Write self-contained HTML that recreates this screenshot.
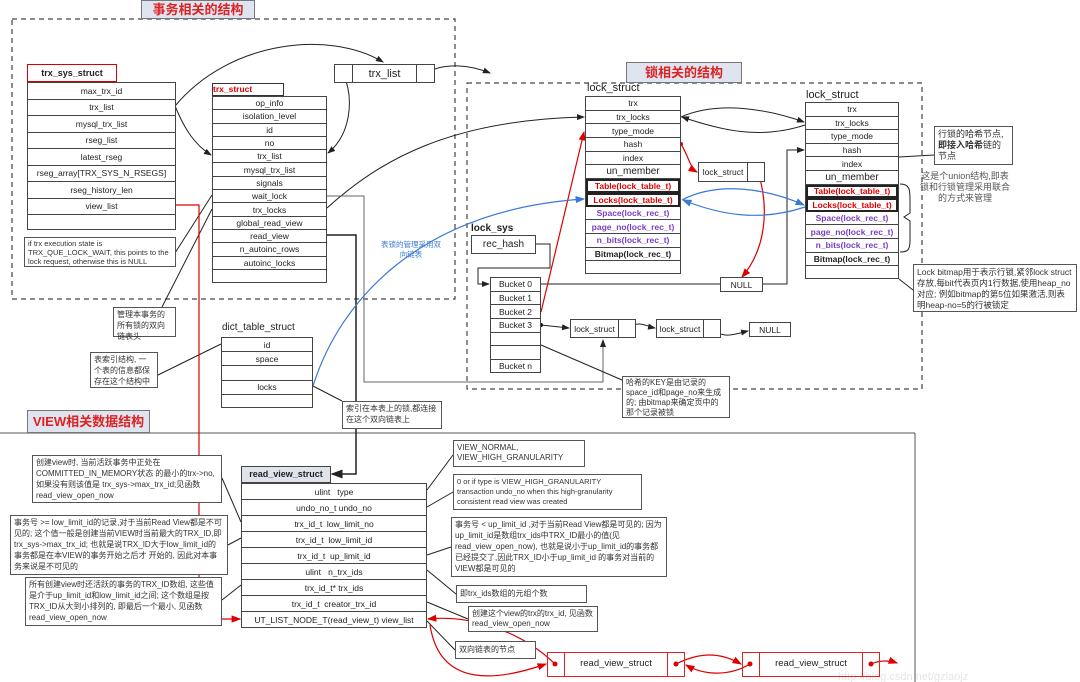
<!DOCTYPE html>
<html><head><meta charset="utf-8"><style>
*{margin:0;padding:0;box-sizing:border-box}
body{width:1080px;height:682px;background:#fff;position:relative;overflow:hidden;font-family:"Liberation Sans","Noto Sans CJK SC",sans-serif;color:#222}
.a{position:absolute}
.t{position:absolute;border:1px solid #444;background:#fff}
.t div{border-bottom:1px solid #444;text-align:center;font-size:8.5px;display:flex;align-items:center;justify-content:center;white-space:nowrap;overflow:hidden}
.t div:last-child{border-bottom:none}
.n{position:absolute;border:1px solid #555;background:#fff;font-size:8.5px;line-height:12px;padding:2px 4px;color:#333}
.ttl{position:absolute;background:#dfe5f0;border:1px solid #777;color:#d22;font-weight:bold;font-size:13px;text-align:center}
.rd{color:#d00;font-weight:bold}
.pu{color:#7a3fc0;font-weight:bold}
.bd{font-weight:bold}
.thk{border:2px solid #222 !important}
svg{position:absolute;left:0;top:0}
</style></head><body>
<svg width="1080" height="682" viewBox="0 0 1080 682">
<defs>
<marker id="k" markerWidth="8" markerHeight="8" refX="7" refY="4" orient="auto"><path d="M0,1L8,4L0,7z" fill="#222"/></marker>
<marker id="r" markerWidth="8" markerHeight="8" refX="7" refY="4" orient="auto"><path d="M0,1L8,4L0,7z" fill="#d00"/></marker>
<marker id="bl" markerWidth="8" markerHeight="8" refX="7" refY="4" orient="auto"><path d="M0,1L8,4L0,7z" fill="#3a7ad8"/></marker>
</defs>
<g fill="none" stroke="#444" stroke-dasharray="5,4" stroke-width="1.2">
<rect x="12" y="19" width="443" height="280"/>
<rect x="467" y="83" width="455" height="306"/>
</g>
<g fill="none" stroke="#555" stroke-width="1">
<line x1="0" y1="433" x2="915" y2="433"/>
<line x1="915" y1="433" x2="915" y2="682"/>
</g>
<g fill="none" stroke="#222" stroke-width="1">
<path d="M175,106 C230,40 330,30 383,62" marker-end="url(#k)"/>
<path d="M175,106 C185,130 195,145 211,155" marker-end="url(#k)"/>
<path d="M343,73 C355,100 350,135 328,153" marker-end="url(#k)"/>
<path d="M426,73 C445,62 470,65 490,73" marker-end="url(#k)"/>
<path d="M327,208 C380,160 450,120 584,117" marker-end="url(#k)"/>
<path d="M681,117 C720,100 770,110 804,122" marker-end="url(#k)"/>
<path d="M805,125 C760,140 720,130 682,117" marker-end="url(#k)"/>
<path d="M327,196 H364 V382 H603 V340" stroke="#666" marker-end="url(#k)"/>
<path d="M541,284 H787 V150 H804" marker-end="url(#k)"/>
<path d="M536,244 H550 V268 H478 V284 H489" marker-end="url(#k)"/>
<path d="M541,325 L569,328" marker-end="url(#k)"/>
<path d="M628,328 C640,320 645,326 655,328" marker-end="url(#k)"/>
<path d="M713,328 C722,340 735,334 748,331" marker-end="url(#k)"/>
<path d="M327,235 H356 V474 H332" stroke-width="1.5" marker-end="url(#k)"/>
<line x1="175" y1="253" x2="212" y2="195"/>
<line x1="212" y1="209" x2="162" y2="307"/>
<line x1="158" y1="375" x2="221" y2="344"/>
<line x1="313" y1="386" x2="342" y2="401"/>
<line x1="541" y1="345" x2="622" y2="380"/>
<line x1="899" y1="157" x2="934" y2="155"/>
<line x1="899" y1="279" x2="913" y2="290"/>
<path d="M900,184 C910,184 910,190 910,200 V213 L904,217 L910,221 V240 C910,250 908,252 900,252"/>
<line x1="222" y1="478" x2="241" y2="522"/>
<line x1="228" y1="545" x2="241" y2="538"/>
<line x1="222" y1="600" x2="241" y2="585"/>
<line x1="453" y1="455" x2="427" y2="490"/>
<line x1="453" y1="492" x2="427" y2="507"/>
<line x1="451" y1="547" x2="427" y2="555"/>
<line x1="456" y1="594" x2="427" y2="570"/>
<line x1="468" y1="619" x2="427" y2="602"/>
<line x1="455" y1="650" x2="427" y2="621"/>
</g>
<g fill="none" stroke="#d00" stroke-width="1.2">
<path d="M175,205 H199 V619 H240" marker-end="url(#r)"/>
<path d="M541,312 L584,132" marker-end="url(#r)"/>
<path d="M681,144 C688,155 690,168 697,172" marker-end="url(#r)"/>
<path d="M758,172 C770,210 765,250 742,277" marker-end="url(#r)"/>
<path d="M555,664 C520,630 470,615 428,619" marker-end="url(#r)"/>
<path d="M430,625 C440,690 500,680 546,664" marker-end="url(#r)"/>
<path d="M676,664 C700,652 720,652 741,664" marker-end="url(#r)"/>
<path d="M750,664 C730,676 705,676 686,665" marker-end="url(#r)"/>
<path d="M871,664 C880,660 888,660 897,663" marker-end="url(#r)"/>
</g>
<g fill="none" stroke="#3a7ad8" stroke-width="1.2">
<path d="M313,386 C340,300 420,210 584,199" marker-end="url(#bl)"/>
<path d="M682,200 C720,180 770,190 804,205" marker-end="url(#bl)"/>
<path d="M805,207 C760,222 720,215 683,200" marker-end="url(#bl)"/>
</g>
<g fill="#111">
<circle cx="343" cy="73" r="2"/><circle cx="426" cy="73" r="2"/>
<circle cx="628" cy="328" r="2"/><circle cx="713" cy="328" r="2"/><circle cx="541" cy="325" r="2"/>
</g>
<g fill="#d00">
<circle cx="681" cy="144" r="2"/><circle cx="758" cy="172" r="2"/>
<circle cx="555" cy="664" r="2.5"/><circle cx="676" cy="664" r="2.5"/><circle cx="750" cy="664" r="2.5"/><circle cx="871" cy="664" r="2.5"/>
</g>
<text x="838" y="680" font-size="11" fill="#e6e6e6" font-family="Liberation Sans">http://blog.csdn.net/gzlaojz</text>
</svg>

<div class="ttl" style="left:141px;top:0;width:114px;height:19px;line-height:18px">事务相关的结构</div>
<div class="ttl" style="left:626px;top:62px;width:116px;height:21px;line-height:20px">锁相关的结构</div>
<div class="ttl" style="left:27px;top:410px;width:123px;height:23px;line-height:22px">VIEW相关数据结构</div>

<div class="a bd" style="left:27px;top:64px;width:90px;height:18px;border:1.5px solid #d00;font-size:9px;text-align:center;line-height:16px;background:#fff">trx_sys_struct</div>
<div class="t" style="left:27px;top:82px;width:149px;height:148px;display:flex;flex-direction:column">
<div style="height:16.5px">max_trx_id</div><div style="height:16.5px">trx_list</div><div style="height:16.5px">mysql_trx_list</div><div style="height:16.5px">rseg_list</div><div style="height:16.5px">latest_rseg</div><div style="height:16.5px">rseg_array[TRX_SYS_N_RSEGS]</div><div style="height:16.5px">rseg_history_len</div><div style="height:16.5px">view_list</div><div style="flex:1"></div></div>
<div class="n" style="left:24px;top:237px;width:152px;height:30px;font-size:7.5px;line-height:9px;padding:1px 3px">if trx execution state is TRX_QUE_LOCK_WAIT, this points to the lock request, otherwise this is NULL</div>

<div class="a rd" style="left:212px;top:83px;width:72px;height:13px;border:1px solid #333;font-size:8.5px;line-height:11px;background:#fff">trx_struct</div>
<div class="t" style="left:212px;top:96px;width:115px;height:187px;display:flex;flex-direction:column">
<div style="height:13.3px">op_info</div><div style="height:13.3px">isolation_level</div><div style="height:13.3px">id</div><div style="height:13.3px">no</div><div style="height:13.3px">trx_list</div><div style="height:13.3px">mysql_trx_list</div><div style="height:13.3px">signals</div><div style="height:13.3px">wait_lock</div><div style="height:13.3px">trx_locks</div><div style="height:13.3px">global_read_view</div><div style="height:13.3px">read_view</div><div style="height:13.3px">n_autoinc_rows</div><div style="height:13.3px">autoinc_locks</div><div style="flex:1"></div></div>

<div class="t" style="left:334px;top:64px;width:101px;height:19px;display:flex"><div style="width:18px;border-right:1px solid #444;border-bottom:none"></div><div style="flex:1;border-right:1px solid #444;border-bottom:none;font-size:11px">trx_list</div><div style="width:17px"></div></div>

<div class="a" style="left:587px;top:82px;font-size:11px">lock_struct</div>
<div class="t" style="left:585px;top:96px;width:96px;height:178px;display:flex;flex-direction:column">
<div style="height:13.7px">trx</div><div style="height:13.7px">trx_locks</div><div style="height:13.7px">type_mode</div><div style="height:13.7px">hash</div><div style="height:13.7px">index</div><div style="height:13.7px;font-size:10px">un_member</div><div class="rd thk" style="height:13.7px">Table(lock_table_t)</div><div class="rd thk" style="height:13.7px">Locks(lock_table_t)</div><div class="pu" style="height:13.7px">Space(lock_rec_t)</div><div class="pu" style="height:13.7px">page_no(lock_rec_t)</div><div class="pu" style="height:13.7px">n_bits(lock_rec_t)</div><div class="bd" style="height:13.7px">Bitmap(lock_rec_t)</div><div style="flex:1"></div></div>

<div class="a" style="left:806px;top:89px;font-size:11px">lock_struct</div>
<div class="t" style="left:805px;top:102px;width:94px;height:177px;display:flex;flex-direction:column">
<div style="height:13.6px">trx</div><div style="height:13.6px">trx_locks</div><div style="height:13.6px">type_mode</div><div style="height:13.6px">hash</div><div style="height:13.6px">index</div><div style="height:13.6px;font-size:10px">un_member</div><div class="rd thk" style="height:13.6px">Table(lock_table_t)</div><div class="rd thk" style="height:13.6px">Locks(lock_table_t)</div><div class="pu" style="height:13.6px">Space(lock_rec_t)</div><div class="pu" style="height:13.6px">page_no(lock_rec_t)</div><div class="pu" style="height:13.6px">n_bits(lock_rec_t)</div><div class="bd" style="height:13.6px">Bitmap(lock_rec_t)</div><div style="flex:1"></div></div>

<div class="t" style="left:698px;top:162px;width:67px;height:20px;display:flex"><div style="flex:1;border-right:1px solid #444;border-bottom:none">lock_struct</div><div style="width:16px"></div></div>
<div class="t" style="left:720px;top:277px;width:43px;height:15px;display:flex"><div style="flex:1">NULL</div></div>

<div class="n" style="left:934px;top:126px;width:79px;height:39px;font-size:9px;line-height:11px;padding:2px 3px">行锁的哈希节点,<b>即接入哈希</b>链的节点</div>
<div class="a" style="left:919px;top:171px;width:92px;font-size:9px;line-height:11px;color:#555;text-align:center">这是个union结构,即表锁和行锁管理采用联合的方式来管理</div>
<div class="n" style="left:913px;top:264px;width:164px;height:48px;font-size:8.5px;line-height:11px;padding:2px 3px">Lock bitmap用于表示行锁,紧邻lock struct存放,每bit代表页内1行数据,使用heap_no对应; 例如bitmap的第5位如果激活,则表明heap-no=5的行被锁定</div>

<div class="a bd" style="left:471px;top:223px;font-size:10px">lock_sys</div>
<div class="t" style="left:471px;top:235px;width:65px;height:19px;display:flex"><div style="flex:1;font-size:10px">rec_hash</div></div>
<div class="t" style="left:490px;top:277px;width:51px;height:96px;display:flex;flex-direction:column">
<div style="height:13.7px">Bucket 0</div><div style="height:13.7px">Bucket 1</div><div style="height:13.7px">Bucket 2</div><div style="height:13.7px">Bucket 3</div><div style="height:13.7px"></div><div style="height:13.7px"></div><div style="flex:1">Bucket n</div></div>
<div class="t" style="left:570px;top:319px;width:66px;height:19px;display:flex"><div style="flex:1;border-right:1px solid #444;border-bottom:none">lock_struct</div><div style="width:16px"></div></div>
<div class="t" style="left:656px;top:319px;width:65px;height:19px;display:flex"><div style="flex:1;border-right:1px solid #444;border-bottom:none">lock_struct</div><div style="width:16px"></div></div>
<div class="t" style="left:749px;top:322px;width:42px;height:15px;display:flex"><div style="flex:1">NULL</div></div>
<div class="n" style="left:622px;top:376px;width:108px;height:42px;font-size:8px;line-height:10px;padding:1px 3px">哈希的KEY是由记录的space_id和page_no来生成的; 由bitmap来确定页中的那个记录被锁</div>
<div class="a" style="left:380px;top:240px;width:62px;font-size:7.5px;line-height:10px;color:#3a7ad8;text-align:center">表锁的管理采用双向链表</div>

<div class="n" style="left:113px;top:307px;width:63px;height:30px;font-size:8px;line-height:11px;padding:1px 3px">管理本事务的所有锁的双向链表头</div>
<div class="a" style="left:222px;top:322px;font-size:10px">dict_table_struct</div>
<div class="t" style="left:221px;top:337px;width:92px;height:71px;display:flex;flex-direction:column">
<div style="height:14.2px">id</div><div style="height:14.2px">space</div><div style="height:14.2px"></div><div style="height:14.2px">locks</div><div style="flex:1"></div></div>
<div class="n" style="left:90px;top:352px;width:68px;height:36px;font-size:8px;line-height:11px;padding:1px 3px">表索引结构, 一个表的信息都保存在这个结构中</div>
<div class="n" style="left:342px;top:401px;width:100px;height:28px;font-size:8px;line-height:11px;padding:1px 3px">索引在本表上的锁,都连接在这个双向链表上</div>

<div class="a bd" style="left:241px;top:466px;width:90px;height:17px;border:1px solid #444;background:#dfe3ea;font-size:9px;text-align:center;line-height:15px">read_view_struct</div>
<div class="t" style="left:241px;top:483px;width:186px;height:145px;display:flex;flex-direction:column">
<div style="height:16px">ulint &nbsp; type</div><div style="height:16px">undo_no_t undo_no</div><div style="height:16px">trx_id_t &nbsp;low_limit_no</div><div style="height:16px">trx_id_t &nbsp;low_limit_id</div><div style="height:16px">trx_id_t &nbsp;up_limit_id</div><div style="height:16px">ulint &nbsp; n_trx_ids</div><div style="height:16px">trx_id_t* trx_ids</div><div style="height:16px">trx_id_t &nbsp;creator_trx_id</div><div style="flex:1">UT_LIST_NODE_T(read_view_t) view_list</div></div>

<div class="n" style="left:32px;top:455px;width:190px;height:48px;font-size:8px;line-height:11px;padding:1px 3px">创建view时, 当前活跃事务中正处在COMMITTED_IN_MEMORY状态 的最小的trx-&gt;no, 如果没有则该值是 trx_sys-&gt;max_trx_id;见函数read_view_open_now</div>
<div class="n" style="left:10px;top:515px;width:218px;height:60px;font-size:8px;line-height:11px;padding:1px 3px">事务号 &gt;= low_limit_id的记录,对于当前Read View都是不可见的; 这个值一般是创建当前VIEW时当前最大的TRX_ID,即trx_sys-&gt;max_trx_id; 也就是说TRX_ID大于low_limit_id的事务都是在本VIEW的事务开始之后才 开始的, 因此对本事务来说是不可见的</div>
<div class="n" style="left:25px;top:577px;width:197px;height:49px;font-size:8px;line-height:11px;padding:1px 3px">所有创建view时还活跃的事务的TRX_ID数组, 这些值是介于up_limit_id和low_limit_id之间; 这个数组是按TRX_ID从大到小排列的, 即最后一个最小, 见函数read_view_open_now</div>
<div class="n" style="left:453px;top:440px;width:132px;height:27px;font-size:8px;line-height:10px;padding:2px 3px">VIEW_NORMAL,<br>VIEW_HIGH_GRANULARITY</div>
<div class="n" style="left:453px;top:474px;width:189px;height:36px;font-size:7.5px;line-height:10px;padding:2px 3px">0 or if type is VIEW_HIGH_GRANULARITY transaction undo_no when this high-granularity consistent read view was created</div>
<div class="n" style="left:451px;top:517px;width:216px;height:60px;font-size:8px;line-height:11px;padding:1px 3px">事务号 &lt; up_limit_id ,对于当前Read View都是可见的; 因为up_limit_id是数组trx_ids中TRX_ID最小的值(见read_view_open_now), 也就是说小于up_limit_id的事务都已经提交了,因此TRX_ID小于up_limit_id 的事务对当前的VIEW都是可见的</div>
<div class="n" style="left:456px;top:585px;width:131px;height:18px;font-size:8px;line-height:12px;padding:2px 3px">即trx_ids数组的元组个数</div>
<div class="n" style="left:468px;top:606px;width:130px;height:26px;font-size:8px;line-height:10px;padding:2px 3px">创建这个view的trx的trx_id, 见函数read_view_open_now</div>
<div class="n" style="left:455px;top:641px;width:81px;height:18px;font-size:8px;line-height:12px;padding:2px 3px">双向链表的节点</div>

<div class="a" style="left:547px;top:652px;width:138px;height:25px;border:1.5px solid #d22;display:flex;font-size:9.5px;background:transparent"><div style="width:17px;border-right:1.5px solid #d22"></div><div style="flex:1;text-align:center;line-height:22px">read_view_struct</div><div style="width:17px;border-left:1.5px solid #d22"></div></div>
<div class="a" style="left:742px;top:652px;width:138px;height:25px;border:1.5px solid #d22;display:flex;font-size:9.5px;background:transparent"><div style="width:17px;border-right:1.5px solid #d22"></div><div style="flex:1;text-align:center;line-height:22px">read_view_struct</div><div style="width:17px;border-left:1.5px solid #d22"></div></div>
</body></html>
